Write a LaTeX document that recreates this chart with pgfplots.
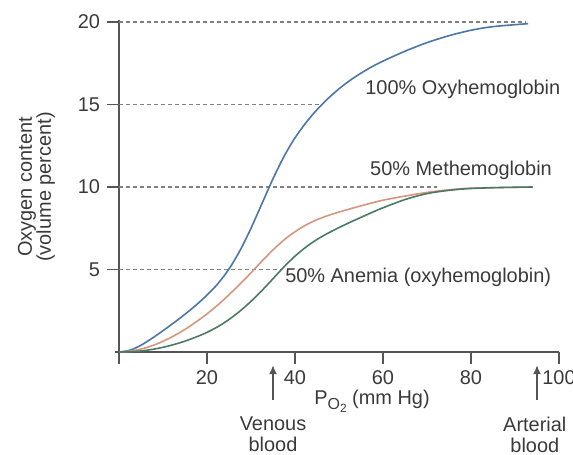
\documentclass[border=0pt]{standalone}
\usepackage{pgfplots}
\pgfplotsset{compat=1.18}
\usepackage{fontspec}
\setmainfont{Liberation Sans}
\usetikzlibrary{arrows.meta}

\definecolor{oxyblue}{HTML}{4A77A8}
\definecolor{metorange}{HTML}{D4977C}
\definecolor{anegreen}{HTML}{4B7A64}
\definecolor{txt}{HTML}{3A3A3A}
\definecolor{axgray}{HTML}{555555}

\begin{document}
\begin{tikzpicture}
\fontsize{10}{12}\selectfont
\begin{axis}[
    at={(0,0)}, anchor=origin,
    x=2.2bp, y=8.25bp,
    xmin=-1, xmax=100, ymin=-0.7, ymax=20.15,
    axis lines=middle,
    axis line style={-, axgray, line width=1bp},
    tick style={axgray, line width=0.8bp},
    tick align=outside,
    major tick length=6bp,
    xtick={0,20,40,60,80,100},
    xticklabels={{},20,40,60,80,100},
    ytick={0,5,10,15,20},
    tick label style={font=\fontsize{10}{12}\selectfont, text=txt},
    /pgf/number format/assume math mode=true,
    clip=false,
  ]
  % dashed reference lines
  \addplot[gray, line width=0.6bp, dash pattern=on 2bp off 1.5bp] coordinates {(0,20) (92.3,20)};
  \addplot[gray, line width=0.6bp, dash pattern=on 2bp off 1.5bp] coordinates {(0,15) (46.4,15)};
  \addplot[gray, line width=0.6bp, dash pattern=on 2bp off 1.5bp] coordinates {(0,10) (72.3,10)};
  \addplot[gray, line width=0.6bp, dash pattern=on 2bp off 1.5bp] coordinates {(0,5) (36.8,5)};

  % 100% oxyhemoglobin
  \addplot[oxyblue, line width=0.8bp, smooth] coordinates {
    (0,0) (2.5,0.11) (5,0.41) (7.5,0.83) (10,1.29) (12.5,1.78) (15,2.29)
    (17.5,2.84) (20,3.45) (22.5,4.15) (25,5.03) (27.5,6.15) (30,7.5)
    (32.5,9.0) (35,10.5) (37.5,11.85) (40,12.98) (42.5,13.9) (45,14.69)
    (47.5,15.36) (50,15.95) (52.5,16.46) (55,16.9) (57.5,17.29) (60,17.63)
    (65,18.23) (70,18.75) (75,19.17) (80,19.5) (85,19.72) (93,19.9)
  };
  % 50% methemoglobin
  \addplot[metorange, line width=0.8bp, smooth] coordinates {
    (0,0) (2.5,0.05) (5,0.18) (7.5,0.38) (10,0.65) (12.5,0.98) (15,1.37)
    (17.5,1.82) (20,2.31) (22.5,2.86) (25,3.47) (27.5,4.12) (30,4.8)
    (32.5,5.51) (35,6.19) (37.5,6.79) (40,7.29) (42.5,7.7) (45,8.02)
    (47.5,8.27) (50,8.48) (55,8.86) (60,9.2) (65,9.45) (70,9.67)
    (75,9.83) (80,9.93) (87,9.97) (94,10)
  };
  % 50% anemia
  \addplot[anegreen, line width=0.8bp, smooth] coordinates {
    (0,0) (2.5,0.015) (5,0.065) (7.5,0.155) (10,0.285) (12.5,0.455) (15,0.66)
    (17.5,0.905) (20,1.19) (22.5,1.54) (25,1.97) (27.5,2.48) (30,3.07)
    (32.5,3.73) (35,4.44) (37.5,5.16) (40,5.81) (42.5,6.36) (45,6.82)
    (47.5,7.2) (50,7.54) (52.5,7.86) (55,8.16) (57.5,8.46) (60,8.74)
    (65,9.24) (70,9.6) (75,9.8) (80,9.91) (87,9.97) (94,10)
  };

  % curve labels
  \node[anchor=base west, inner sep=0, text=txt] at (axis cs:55.9,15.6) {100\% Oxyhemoglobin};
  \node[anchor=base west, inner sep=0, text=txt] at (axis cs:57,10.7) {50\% Methemoglobin};
  \node[anchor=base west, inner sep=0, text=txt] at (axis cs:37.7,4.2) {50\% Anemia (oxyhemoglobin)};

  % axis labels
  \node[rotate=90, align=center, text=txt, font=\fontsize{10}{9.5}\selectfont] at (axis cs:-18.75,10)
    {Oxygen content\\(volume percent)};
  \node[anchor=base west, inner sep=0, text=txt] at (axis cs:44.3,-3.2)
    {P\raisebox{-0.45ex}{\fontsize{8}{8}\selectfont O\raisebox{-0.35ex}{\fontsize{6}{6}\selectfont 2}} (mm Hg)};

  % arrows
  \draw[axgray, line width=0.8bp, -{Latex[length=4.5bp,width=4bp]}] (axis cs:35,-2.9) -- (axis cs:35,-0.8);
  \draw[axgray, line width=0.8bp, -{Latex[length=4.5bp,width=4bp]}] (axis cs:95,-2.9) -- (axis cs:95,-0.8);
  \node[anchor=north, inner sep=0, align=center, text=txt, font=\fontsize{10}{10.5}\selectfont] at (axis cs:35,-3.9) {Venous\\blood};
  \node[anchor=north, inner sep=0, align=center, text=txt, font=\fontsize{10}{10.5}\selectfont] at (axis cs:94.5,-3.9) {Arterial\\blood};
\end{axis}
\pgfresetboundingbox
\path (-59.5bp,-51.5bp) rectangle (227bp,176bp);
\end{tikzpicture}
\end{document}
